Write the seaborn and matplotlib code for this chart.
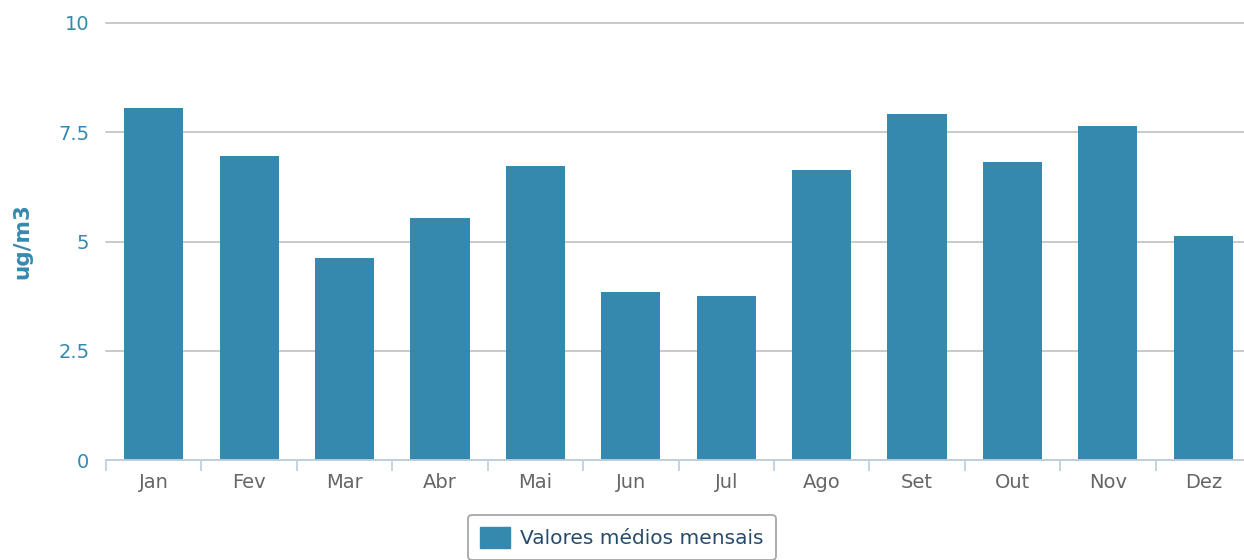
import matplotlib

matplotlib.use("Agg")

import matplotlib.pyplot as plt
import numpy as np
import seaborn as sns
from matplotlib.patches import Patch
from matplotlib.ticker import FixedLocator, FuncFormatter

months = ["Jan", "Fev", "Mar", "Abr", "Mai", "Jun", "Jul", "Ago", "Set", "Out", "Nov", "Dez"]
values = [8.05, 6.96, 4.62, 5.54, 6.73, 3.84, 3.75, 6.64, 7.92, 6.82, 7.64, 5.13]
y_ticks = [0, 2.5, 5, 7.5, 10]
series_name = "Valores médios mensais"
y_label = "ug/m3"

BAR = "#3589AF"

sns.set_style("white")
plt.rcParams["font.family"] = ["DejaVu Sans"]

fig = plt.figure(figsize=(12.44, 5.6), dpi=100)
ax = fig.add_axes([106 / 1244, 100 / 560, 1145 / 1244, 437 / 560])

sns.barplot(x=months, y=values, color=BAR, saturation=1, width=0.62, linewidth=0, ax=ax)

ax.set_ylim(0, 10)
ax.set_xlim(-0.5, len(months) - 0.5)
ax.yaxis.set_major_locator(FixedLocator(y_ticks))
ax.yaxis.set_major_formatter(FuncFormatter(lambda v, _: f"{v:g}"))
ax.grid(axis="y", color="#C0C0C0", linewidth=1.2)
ax.set_axisbelow(True)
for gl in ax.get_ygridlines():
    gl.set_clip_on(False)

for side in ["left", "right", "top"]:
    ax.spines[side].set_visible(False)
ax.spines["bottom"].set_color("#C0D0E0")
ax.spines["bottom"].set_linewidth(1.3)

# ticks at category boundaries, labels at centres
ax.xaxis.set_minor_locator(FixedLocator(np.arange(-0.5, len(months), 1)))
ax.tick_params(axis="x", which="major", bottom=True, length=0, pad=9, labelsize=14, labelcolor="#666666")
ax.tick_params(axis="x", which="minor", bottom=True, length=8, width=1.3, color="#C0D0E0")
ax.tick_params(axis="y", length=0, pad=12, labelsize=14, labelcolor=BAR)

ax.set_xlabel("")
ax.set_ylabel(y_label, color=BAR, fontsize=15.5, fontweight="bold", va="center")
ax.yaxis.set_label_coords(-84 / 1145, 0.5)

handle = Patch(facecolor=BAR, edgecolor=BAR, label=series_name)
leg = fig.legend(
    handles=[handle],
    loc="upper center",
    bbox_to_anchor=(622 / 1244, 1 - 515 / 560),
    borderaxespad=0,
    frameon=True,
    fontsize=14.5,
    handlelength=1.5,
    handleheight=1.2,
    handletextpad=0.5,
    borderpad=0.6,
    fancybox=True,
)
leg.get_frame().set_edgecolor("#909090")
leg.get_frame().set_linewidth(1.3)
for t in leg.get_texts():
    t.set_color("#274B6D")

fig.savefig("out.png", dpi=100)
